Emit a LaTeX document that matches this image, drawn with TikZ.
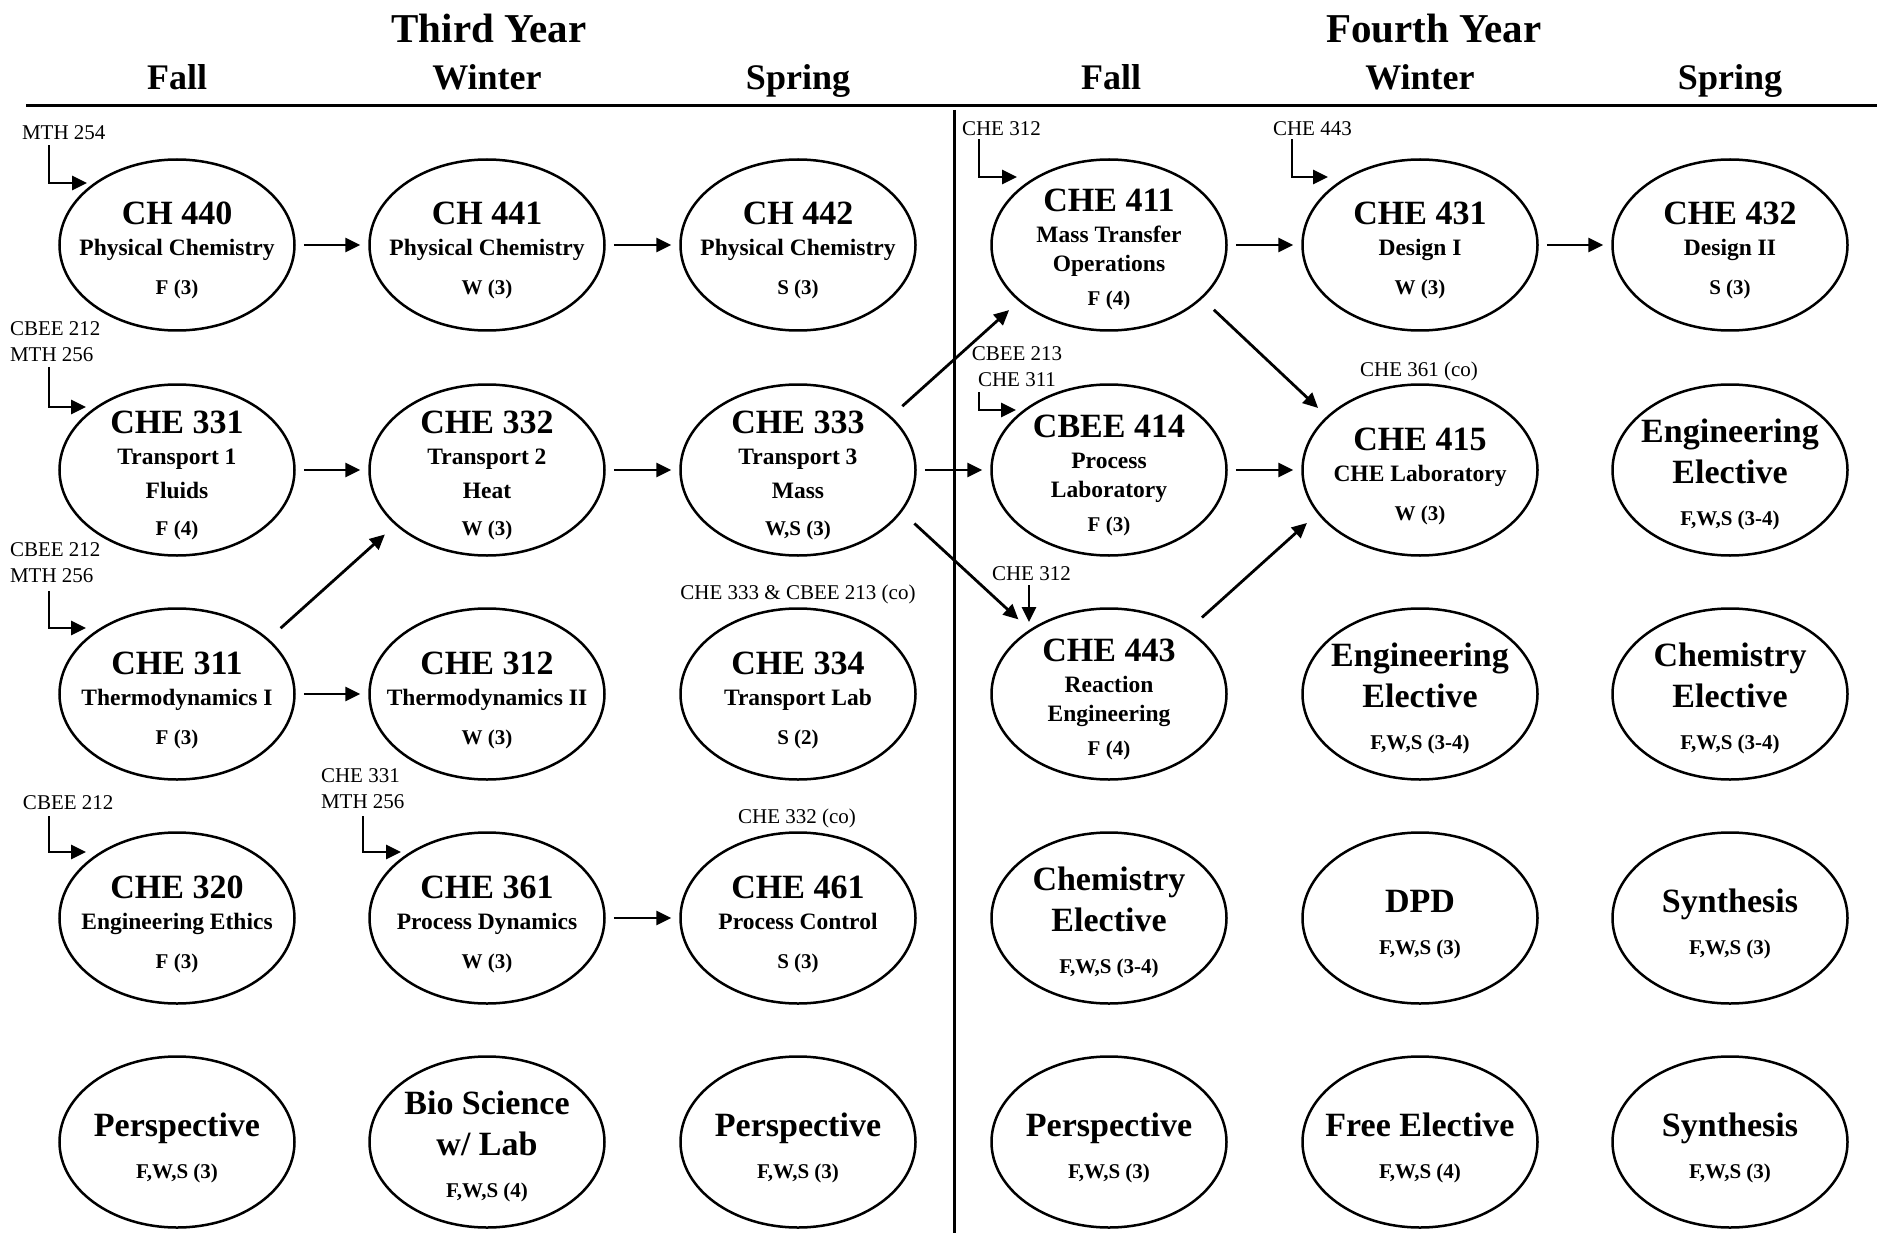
\documentclass[tikz,border=0pt]{standalone}
\usepackage{fontspec}
\setmainfont{Liberation Serif}
\usetikzlibrary{shapes.geometric,arrows.meta,calc}

\newcommand{\putln}[3]{\makebox[0pt][c]{\raisebox{-#1pt}[0pt][0pt]{#2#3}}}
\newcommand{\fT}{\fontsize{34}{40}\selectfont\bfseries}
\newcommand{\fS}{\fontsize{23.5}{28}\selectfont\bfseries}
\newcommand{\fC}{\fontsize{21}{25}\selectfont\bfseries}
\newcommand{\ctA}[3]{\putln{-20}{\fT}{#1}\putln{11}{\fS}{#2}\putln{50}{\fC}{#3}}
\newcommand{\ctB}[4]{\putln{-37}{\fT}{#1}\putln{-6}{\fS}{#2}\putln{28}{\fS}{#3}\putln{65}{\fC}{#4}}
\newcommand{\ctC}[4]{\putln{-33}{\fT}{#1}\putln{-2}{\fS}{#2}\putln{27}{\fS}{#3}\putln{61}{\fC}{#4}}
\newcommand{\ctE}[3]{\putln{-28}{\fT}{#1}\putln{13}{\fT}{#2}\putln{55}{\fC}{#3}}
\newcommand{\ctF}[2]{\putln{-6}{\fT}{#1}\putln{36}{\fC}{#2}}

\tikzset{
  course/.style={ellipse, draw, line width=2.5pt, minimum width=235pt, minimum height=171pt, inner sep=0pt},
  arr/.style={line width=2.8pt, -{Triangle[length=15pt,width=14pt]}},
  hconn/.style={arr, shorten <=8pt, shorten >=8pt},
  prq/.style={inner sep=0pt, outer sep=0pt, font=\fontsize{21}{26}\selectfont},
  yearhd/.style={inner sep=0pt, anchor=base, font=\fontsize{41}{48}\selectfont\bfseries},
  seashd/.style={inner sep=0pt, anchor=base, font=\fontsize{36}{42}\selectfont\bfseries},
}

\begin{document}
\begin{tikzpicture}[x=1pt,y=-1pt]
\useasboundingbox (0,0) rectangle (1877,1233);

% headers
\node[yearhd] (third) at (489,43) {Third Year};
\node[yearhd] (fourth) at (1434,43) {Fourth Year};
\node[seashd] (s1) at (177,90) {Fall};
\node[seashd] (s2) at (487,90) {Winter};
\node[seashd] (s3) at (798,90) {Spring};
\node[seashd] (s4) at (1111,90) {Fall};
\node[seashd] (s5) at (1420,90) {Winter};
\node[seashd] (s6) at (1730,90) {Spring};
\draw[line width=3pt] (26,106) -- (1877,106);
\draw[line width=3pt] (954,110) -- (954,1233);

% row 1
\node[course] (c440) at (177,245) {\ctA{CH 440}{Physical Chemistry}{F (3)}};
\node[course] (c441) at (487,245) {\ctA{CH 441}{Physical Chemistry}{W (3)}};
\node[course] (c442) at (798,245) {\ctA{CH 442}{Physical Chemistry}{S (3)}};
\node[course] (c411) at (1109,245) {\ctC{CHE 411}{Mass Transfer}{Operations}{F (4)}};
\node[course] (c431) at (1420,245) {\ctA{CHE 431}{Design I}{W (3)}};
\node[course] (c432) at (1730,245) {\ctA{CHE 432}{Design II}{S (3)}};
% row 2
\node[course] (c331) at (177,470) {\ctB{CHE 331}{Transport 1}{Fluids}{F (4)}};
\node[course] (c332) at (487,470) {\ctB{CHE 332}{Transport 2}{Heat}{W (3)}};
\node[course] (c333) at (798,470) {\ctB{CHE 333}{Transport 3}{Mass}{W,S (3)}};
\node[course] (c414) at (1109,470) {\ctC{CBEE 414}{Process}{Laboratory}{F (3)}};
\node[course] (c415) at (1420,470) {\ctA{CHE 415}{CHE Laboratory}{W (3)}};
\node[course] (e1) at (1730,470) {\ctE{Engineering}{Elective}{F,W,S (3-4)}};
% row 3
\node[course] (c311) at (177,694) {\ctA{CHE 311}{Thermodynamics I}{F (3)}};
\node[course] (c312) at (487,694) {\ctA{CHE 312}{Thermodynamics II}{W (3)}};
\node[course] (c334) at (798,694) {\ctA{CHE 334}{Transport Lab}{S (2)}};
\node[course] (c443) at (1109,694) {\ctC{CHE 443}{Reaction}{Engineering}{F (4)}};
\node[course] (e2) at (1420,694) {\ctE{Engineering}{Elective}{F,W,S (3-4)}};
\node[course] (e3) at (1730,694) {\ctE{Chemistry}{Elective}{F,W,S (3-4)}};
% row 4
\node[course] (c320) at (177,918) {\ctA{CHE 320}{Engineering Ethics}{F (3)}};
\node[course] (c361) at (487,918) {\ctA{CHE 361}{Process Dynamics}{W (3)}};
\node[course] (c461) at (798,918) {\ctA{CHE 461}{Process Control}{S (3)}};
\node[course] (e4) at (1109,918) {\ctE{Chemistry}{Elective}{F,W,S (3-4)}};
\node[course] (dpd) at (1420,918) {\ctF{DPD}{F,W,S (3)}};
\node[course] (syn1) at (1730,918) {\ctF{Synthesis}{F,W,S (3)}};
% row 5
\node[course] (per1) at (177,1142) {\ctF{Perspective}{F,W,S (3)}};
\node[course] (bio) at (487,1142) {\ctE{Bio Science}{w/ Lab}{F,W,S (4)}};
\node[course] (per2) at (798,1142) {\ctF{Perspective}{F,W,S (3)}};
\node[course] (per3) at (1109,1142) {\ctF{Perspective}{F,W,S (3)}};
\node[course] (free) at (1420,1142) {\ctF{Free Elective}{F,W,S (4)}};
\node[course] (syn2) at (1730,1142) {\ctF{Synthesis}{F,W,S (3)}};

% horizontal connectors
\draw[hconn] (c440.east) -- (c441.west);
\draw[hconn] (c441.east) -- (c442.west);
\draw[hconn] (c411.east) -- (c431.west);
\draw[hconn] (c431.east) -- (c432.west);
\draw[hconn] (c331.east) -- (c332.west);
\draw[hconn] (c332.east) -- (c333.west);
\draw[hconn] (c333.east) -- (c414.west);
\draw[hconn] (c414.east) -- (c415.west);
\draw[hconn] (c311.east) -- (c312.west);
\draw[hconn] (c361.east) -- (c461.west);

% diagonal connectors
\draw[arr, shorten <=16pt, shorten >=14pt] (c311.31) -- (c332.211);
\draw[arr, shorten <=15pt, shorten >=13pt] (c333.30) -- (c411.212);
\draw[arr, shorten <=17pt, shorten >=15pt] (c333.-22) -- (c443.141);
\draw[arr, shorten <=18pt, shorten >=14pt] (c443.39) -- (c415.203);
\draw[arr, shorten <=16pt, shorten >=12pt] (c411.-30) -- (c415.150);

% prerequisite labels
\node[prq, anchor=base west] (l440) at (22,140) {MTH 254};
\node[prq, anchor=south west, align=left] (l331) at (10,362) {CBEE 212\\MTH 256};
\node[prq, anchor=south west, align=left] (l311) at (10,583) {CBEE 212\\MTH 256};
\node[prq, anchor=base west] (l320) at (23,809) {CBEE 212};
\node[prq, anchor=south west, align=left] (l361) at (321,809) {CHE 331\\MTH 256};
\node[prq, anchor=base west] (l411) at (962,136) {CHE 312};
\node[prq, anchor=base west] (l431) at (1273,136) {CHE 443};
\node[prq, anchor=south, align=center] (l414) at (1017,387) {CBEE 213\\CHE 311};
\node[prq, anchor=base west] (l443) at (992,580) {CHE 312};
\node[prq, anchor=base] (l334) at (798,599) {CHE 333 \& CBEE 213 (co)};
\node[prq, anchor=base] (l461) at (797,823) {CHE 332 (co)};
\node[prq, anchor=base] (l415) at (1419,377) {CHE 361 (co)};

% elbow prerequisite arrows
\coordinate (k440) at ($(c440)+(-128,-62)$);
\draw[arr, shorten <=5pt] (k440 |- l440.south) -- (k440) -- ($(c440)+(-90,-62)$);
\coordinate (k331) at ($(c331)+(-128,-63)$);
\draw[arr, shorten <=5pt] (k331 |- l331.south) -- (k331) -- ($(c331)+(-91,-63)$);
\coordinate (k311) at ($(c311)+(-128,-66)$);
\draw[arr, shorten <=8pt] (k311 |- l311.south) -- (k311) -- ($(c311)+(-91,-66)$);
\coordinate (k320) at ($(c320)+(-128,-66)$);
\draw[arr, shorten <=7pt] (k320 |- l320.south) -- (k320) -- ($(c320)+(-91,-66)$);
\coordinate (k361) at ($(c361)+(-124,-66)$);
\draw[arr, shorten <=7pt] (k361 |- l361.south) -- (k361) -- ($(c361)+(-86,-66)$);
\coordinate (k411) at ($(c411)+(-130,-68)$);
\draw[arr, shorten <=3pt] (k411 |- l411.south) -- (k411) -- ($(c411)+(-92,-68)$);
\coordinate (k431) at ($(c431)+(-128,-68)$);
\draw[arr, shorten <=3pt] (k431 |- l431.south) -- (k431) -- ($(c431)+(-92,-68)$);
\coordinate (k414) at ($(c414)+(-130,-60)$);
\draw[arr, shorten <=5pt] (k414 |- l414.south) -- (k414) -- ($(c414)+(-93,-60)$);
\coordinate (k443) at ($(c443)+(-80,-72)$);
\draw[arr, shorten <=5pt] (k443 |- l443.south) -- (k443);
\end{tikzpicture}
\end{document}
